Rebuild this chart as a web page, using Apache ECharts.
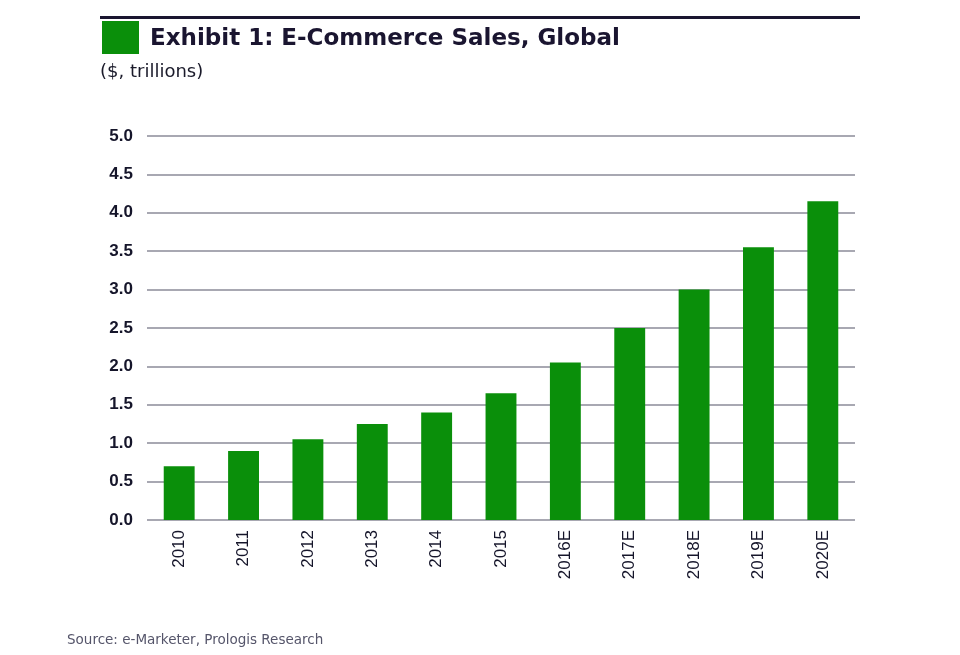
<!DOCTYPE html>
<html><head><meta charset="utf-8">
<script src="https://cdn.jsdelivr.net/npm/echarts@6/dist/echarts.min.js"></script>
<style>html,body{margin:0;padding:0;background:#fff}#c{width:960px;height:655px}</style>
</head><body><div id="c"></div>
<script>
var categories = ['2010','2011','2012','2013','2014','2015','2016E','2017E','2018E','2019E','2020E'];
var sales = [0.70, 0.90, 1.05, 1.25, 1.40, 1.65, 2.05, 2.50, 3.00, 3.55, 4.15];
var titleText = 'Exhibit 1: E-Commerce Sales, Global';
var subtitleText = '($, trillions)';
var sourceText = 'Source: e-Marketer, Prologis Research';

var chart = echarts.init(document.getElementById('c'));
chart.setOption({
  animation: false,
  backgroundColor: '#fff',
  grid: {left: 147, right: 105, top: 136, bottom: 135, containLabel: false},
  xAxis: {
    type: 'category', data: categories,
    axisLine: {show: false}, axisTick: {show: false},
    axisLabel: {rotate: 90, margin: 10, fontFamily: 'Liberation Sans', fontSize: 17, color: '#15152a'}
  },
  yAxis: {
    type: 'value', min: 0, max: 5, interval: 0.5,
    axisLine: {show: false}, axisTick: {show: false},
    axisLabel: {formatter: function(v){return v.toFixed(1);}, margin: 14, fontFamily: 'Liberation Sans', fontWeight: 'bold', fontSize: 17, color: '#15152a'},
    splitLine: {lineStyle: {color: '#a8a8b2', width: 2}}
  },
  series: [{type: 'bar', data: sales, barWidth: '48%', itemStyle: {color: '#0a8f0a'}}],
  graphic: [
    {type: 'rect', shape: {x: 100, y: 16, width: 760, height: 3}, style: {fill: '#1a1530'}},
    {type: 'rect', shape: {x: 102, y: 21, width: 37, height: 33}, style: {fill: '#0a8f0a'}},
    {type: 'text', left: 150, top: 28, style: {text: titleText, font: 'bold 23px "DejaVu Sans"', fill: '#1a1530'}},
    {type: 'text', left: 100, top: 63, style: {text: subtitleText, font: '18px "DejaVu Sans"', fill: '#1a1a2a'}},
    {type: 'text', left: 67, top: 633, style: {text: sourceText, font: '13.5px "DejaVu Sans"', fill: '#55556a'}}
  ]
});
</script></body></html>
